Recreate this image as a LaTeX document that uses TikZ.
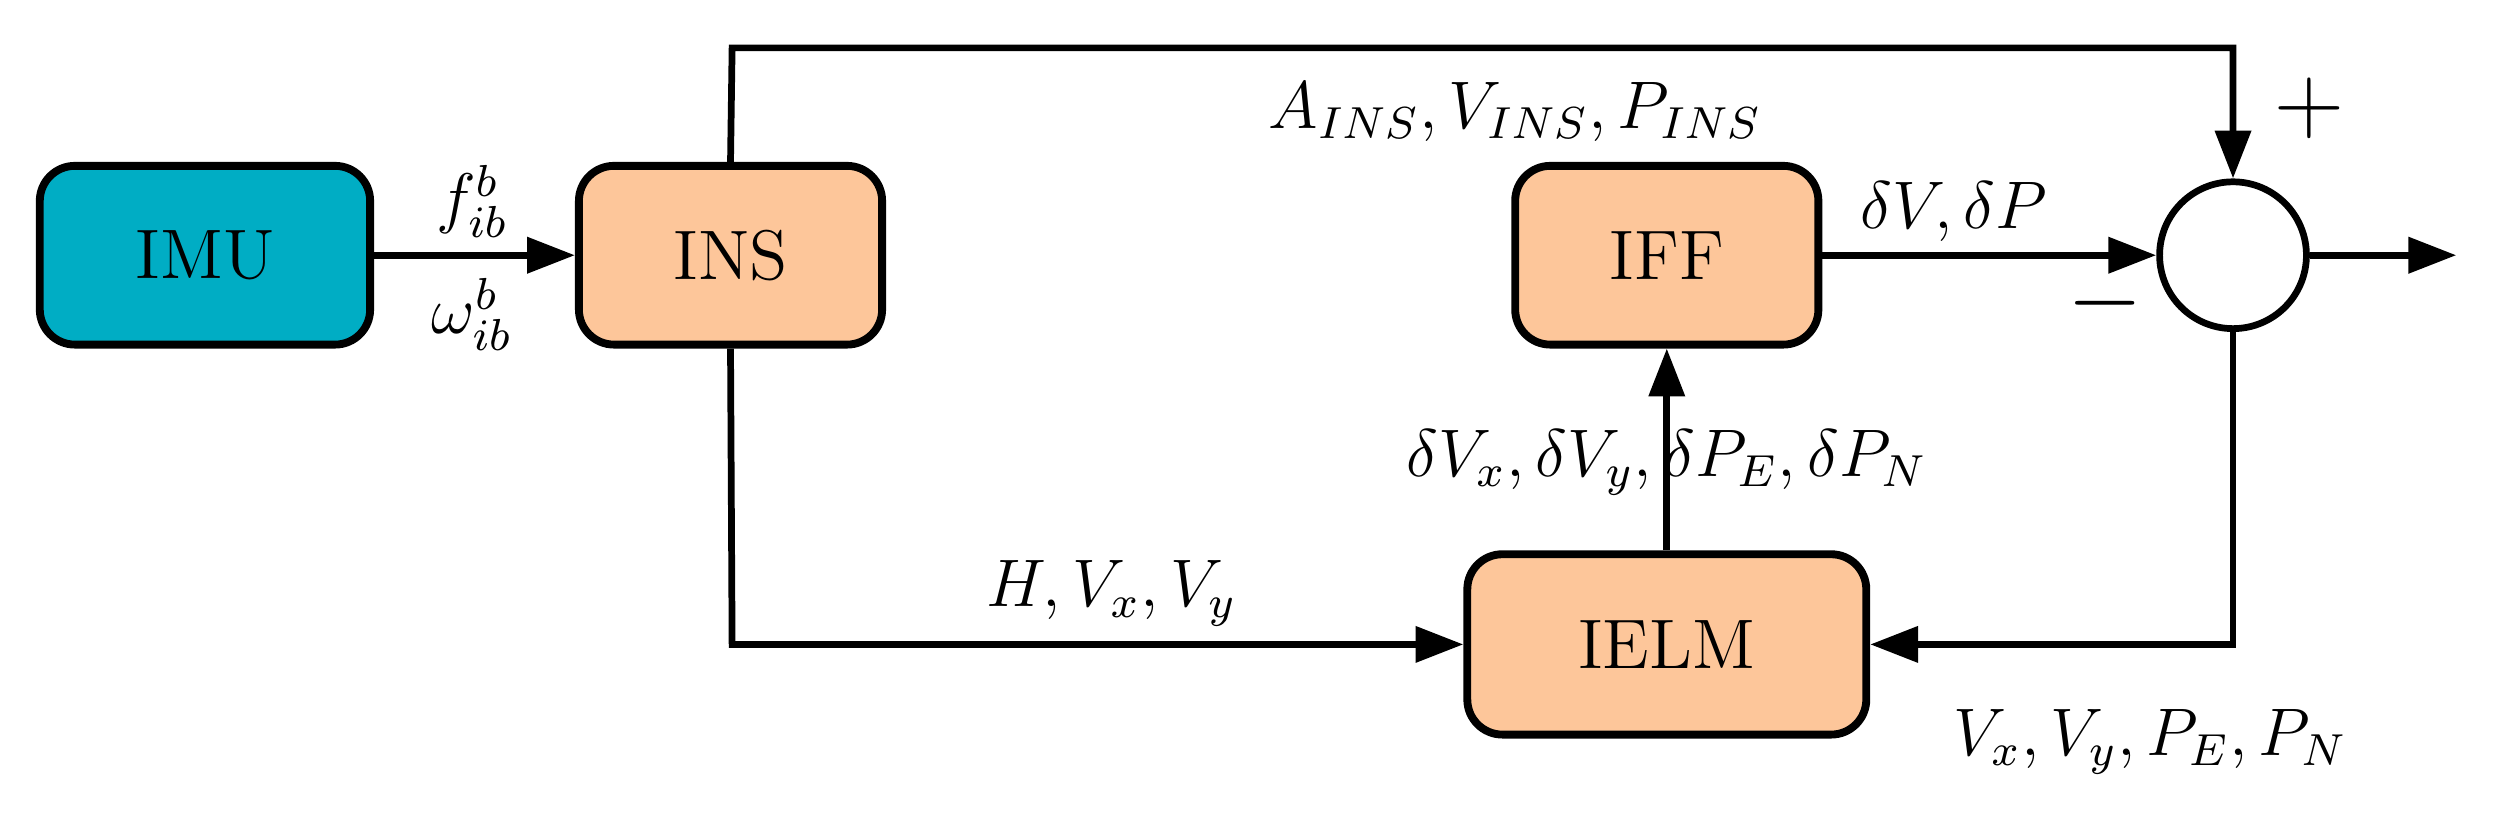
\documentclass[tikz,border=0pt]{standalone}
\usetikzlibrary{arrows.meta}
\definecolor{teal1}{HTML}{00ADC4}
\definecolor{peach}{HTML}{FDC69A}
\begin{document}
\begin{tikzpicture}[x=0.01cm,y=-0.01cm,
  box/.style={draw,line width=1.4pt,rounded corners=0.22cm,minimum width=1.9cm,minimum height=1.12cm,font=\fontsize{12.5}{15}\selectfont,inner sep=0},
  ln/.style={line width=1.2pt},
  arr/.style={ln,-{Triangle[length=0.3cm,width=0.22cm]}},
  lab/.style={font=\fontsize{11.5}{14}\selectfont,inner sep=0}]
\useasboundingbox (0,0) rectangle (1568,526);
\node[box,fill=teal1,minimum width=2.07cm] (imu) at (128.5,160) {IMU};
\node[box,fill=peach] (ins) at (458,160) {INS};
\node[box,fill=peach] (iff) at (1045,160) {IFF};
\node[box,fill=peach,minimum width=2.5cm,minimum height=1.13cm] (ielm) at (1045,404) {IELM};
\node[draw,ln,circle,minimum size=0.92cm,inner sep=0] (sum) at (1400,160) {};
\coordinate (tl) at (459,30);
\coordinate (tr) at (1400,30);
\coordinate (bl) at (459,404);
\coordinate (br) at (1400,404);
\coordinate (out) at (1540,160);
\draw[arr] (imu) -- (ins);
\draw[arr] (ins.north) -- (tl) -- (tr) -- (sum.north);
\draw[arr] (iff) -- (sum);
\draw[arr] (sum) -- (out);
\draw[arr] (ins.south) -- (bl) -- (ielm.west);
\draw[arr] (sum.south) -- (br) -- (ielm.east);
\draw[arr] (ielm) -- (iff);
\node[lab] (l1) at (296,126) {$f_{ib}^{b}$};
\node[lab] (l2) at (296,197) {$\omega_{ib}^{b}$};
\node[lab] (l3) at (950,70) {$A_{INS},V_{INS},P_{INS}$};
\node[lab] (l4) at (1448,68) {\fontsize{16}{18}\selectfont$+$};
\node[lab] (l5) at (1225,133) {$\delta V,\delta P$};
\node[lab] (l6) at (1320,190) {\fontsize{16}{18}\selectfont$-$};
\node[lab] (l7) at (1045,290) {$\delta V_x,\delta V_y,\delta P_E,\delta P_N$};
\node[lab] (l8) at (697,372) {$H,V_x,V_y$};
\node[lab] (l9) at (1348,465) {$V_x,V_y,P_E,P_N$};
\end{tikzpicture}
\end{document}
